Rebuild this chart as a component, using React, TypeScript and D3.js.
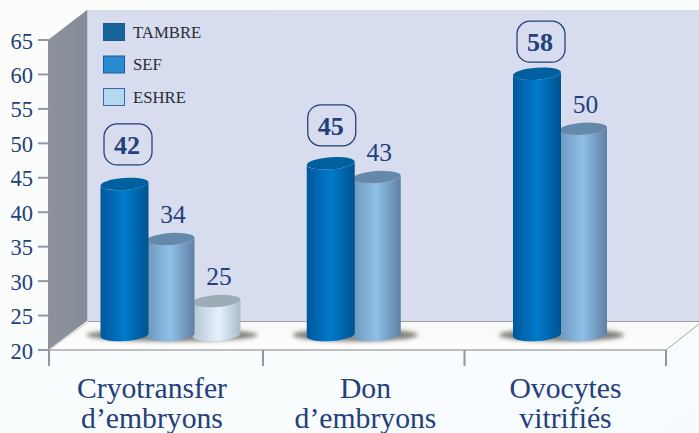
import React, { useMemo } from "react";
import * as d3 from "d3";

const categories = [["Cryotransfer", "d’embryons"], ["Don", "d’embryons"], ["Ovocytes", "vitrifiés"]];
const seriesNames = ["TAMBRE", "SEF", "ESHRE"];
const tambre = [42, 45, 58];
const sef = [34, 43, 50];
const eshre: (number | null)[] = [25, null, null];
const yTicks = [20, 25, 30, 35, 40, 45, 50, 55, 60, 65];

const W = 699, H = 433;
const serif = "'Liberation Serif', serif";
const navy = "#24407a";

const depth = { dx: 39, dy: -29 };
const plot = { left: 49, right: 666, top: 40, bottom: 350 };
const badgeShift = [{ x: 3.5, y: 39.5 }, { x: 1, y: 38 }, { x: 4, y: 32 }];

export default function App() {
  const y = useMemo(() => d3.scaleLinear().domain([20, 65]).range([plot.bottom, plot.top]), []);
  const tickX = useMemo(() => d3.scaleLinear().domain([0, 1, 3]).range([plot.left, 263, plot.right]), []);
  const groupX = useMemo(() => d3.scaleLinear().domain([0, 2]).range([124.5, 537]), []);
  const labelX = useMemo(() => d3.scaleLinear().domain([0, 1, 2]).range([152, 365.5, 565.5]), []);
  const barW = 48;
  const step = 46;
  const barOff = -14.5;
  const rY = 6;
  const tilt = -4;
  const dt = 1.7;
  const baseY = 335;

  const series = [tambre, sef, eshre];
  const bars = series.flatMap((vals, s) =>
    vals.map((v, c) => ({ v, s, c })).filter((d) => d.v !== null)
  ) as { v: number; s: number; c: number }[];

  const cylinder = (cx: number, top: number) => {
    const l = cx - barW / 2, r = cx + barW / 2;
    return `M${l},${top + dt} L${l},${baseY + dt} A${barW / 2},${rY} ${tilt} 0 0 ${r},${baseY - dt} L${r},${top - dt} A${barW / 2},${rY} ${tilt} 0 1 ${l},${top + dt} Z`;
  };
  const barCx = (d: { s: number; c: number }) => groupX(d.c) + d.s * step;

  const shadows = categories.map((_, c) => {
    const n = series.filter((sv) => sv[c] !== null).length;
    return {
      c,
      x0: groupX(c) - barW / 2 - 14,
      x1: groupX(c) + (n - 1) * step + barW / 2 + 17,
    };
  });

  return (
    <svg
      width={W}
      height={H}
      viewBox={`0 0 ${W} ${H}`}
      style={{ position: "absolute", left: 0, top: 0, display: "block" }}
    >
      <defs>
        <linearGradient id="page" x1="0" y1="0" x2="1" y2="1">
          <stop offset="0" stopColor="#fcfdfb" />
          <stop offset="1" stopColor="#f6fbfe" />
        </linearGradient>
        <linearGradient id="wall" x1="0" y1="0" x2="1" y2="0">
          <stop offset="0" stopColor="#8d929c" />
          <stop offset="1" stopColor="#868c97" />
        </linearGradient>
        <linearGradient id="floor" x1="0" y1="0" x2="0" y2="1">
          <stop offset="0" stopColor="#f8f8f7" />
          <stop offset="1" stopColor="#fefefe" />
        </linearGradient>
        <linearGradient id="s0" x1="0" y1="0" x2="1" y2="0">
          <stop offset="0" stopColor="#00589c" />
          <stop offset="0.5" stopColor="#007acc" />
          <stop offset="1" stopColor="#00538f" />
        </linearGradient>
        <linearGradient id="s1" x1="0" y1="0" x2="1" y2="0">
          <stop offset="0" stopColor="#6e97bd" />
          <stop offset="0.5" stopColor="#8fc0e8" />
          <stop offset="1" stopColor="#5f80a3" />
        </linearGradient>
        <linearGradient id="s2" x1="0" y1="0" x2="1" y2="0">
          <stop offset="0" stopColor="#b4c4d2" />
          <stop offset="0.55" stopColor="#e6f2fd" />
          <stop offset="1" stopColor="#a9bccb" />
        </linearGradient>
        <filter id="blur" x="-20%" y="-80%" width="140%" height="260%">
          <feGaussianBlur stdDeviation="2.2" />
        </filter>
      </defs>

      <rect width={W} height={H} fill="url(#page)" />

      {/* walls and floor */}
      <rect x={plot.left + depth.dx - 1} y={10} width={W} height={plot.bottom + depth.dy - 10} fill="#d7dcef" />
      <line x1={plot.left + depth.dx - 1} x2={plot.left + depth.dx - 1} y1={10} y2={plot.bottom + depth.dy} stroke="#a9b3c6" strokeWidth={1} />
      <polygon
        points={`${plot.left - 1},${plot.top} ${plot.left + depth.dx - 1},${plot.top + depth.dy - 1} ${plot.left + depth.dx - 1},${plot.bottom + depth.dy} ${plot.left - 1},${plot.bottom}`}
        fill="url(#wall)"
      />
      <polygon
        points={`${plot.left},${plot.bottom} ${plot.left + depth.dx},${plot.bottom + depth.dy + 1} ${W},${plot.bottom + depth.dy + 1} ${W},${plot.bottom + depth.dy + 3} ${plot.right},${plot.bottom}`}
        fill="url(#floor)"
      />
      <line x1={plot.left + depth.dx} x2={W} y1={plot.bottom + depth.dy + 0.5} y2={plot.bottom + depth.dy + 0.5} stroke="#9ea2a6" strokeWidth={1} />
      <line x1={plot.left} x2={plot.left + depth.dx} y1={plot.bottom} y2={plot.bottom + depth.dy + 1} stroke="#c9cbcb" strokeWidth={1} />
      <line x1={plot.right} x2={W} y1={plot.bottom} y2={plot.bottom - 26} stroke="#a3a7a8" strokeWidth={1} />
      <line x1={plot.left - 1} x2={plot.right} y1={plot.bottom} y2={plot.bottom} stroke="#a8abac" strokeWidth={1.6} />

      {/* y axis */}
      {yTicks.map((t) => (
        <g key={t}>
          <line x1={38} x2={49} y1={y(t)} y2={y(t)} stroke="#949aa3" strokeWidth={2} />
          <text x={33} y={y(t) + 8.5} textAnchor="end" fontFamily={serif} fontSize={22.5} fill={navy}>
            {t}
          </text>
        </g>
      ))}

      {/* x axis ticks */}
      {[0, 1, 2, 3].map((i) => (
        <line key={i} x1={tickX(i)} x2={tickX(i)} y1={plot.bottom} y2={366} stroke="#8f97a0" strokeWidth={2} />
      ))}

      {/* shadows */}
      {shadows.map((s) => (
        <ellipse
          key={s.c}
          cx={(s.x0 + s.x1) / 2}
          cy={baseY}
          rx={(s.x1 - s.x0) / 2}
          ry={6.5}
          fill="#85817a"
          filter="url(#blur)"
        />
      ))}

      {/* bars, drawn right to left so the left one overlaps */}
      {[...bars].reverse().map((d) => {
        const cx = barCx(d);
        const top = y(d.v) + barOff;
        return (
          <g key={`${d.s}-${d.c}`}>
            <path d={cylinder(cx, top)} fill={`url(#s${d.s})`} />
            <ellipse
              cx={cx}
              cy={top}
              rx={barW / 2}
              ry={rY}
              transform={`rotate(${tilt} ${cx} ${top})`}
              fill={["#005f9e", "#6589aa", "#9dadb5"][d.s]}
            />
          </g>
        );
      })}

      {/* value labels */}
      {bars.map((d) => {
        const cx = barCx(d);
        const top = y(d.v) + barOff;
        if (d.s === 0) {
          const bx = cx + badgeShift[d.c].x;
          const by = top - badgeShift[d.c].y;
          return (
            <g key={`l${d.c}`}>
              <rect x={bx - 24} y={by - 20.5} width={48} height={41} rx={13} fill="none" stroke={navy} strokeWidth={1.3} />
              <text x={bx - 1} y={by + 9.5} textAnchor="middle" fontFamily={serif} fontWeight="bold" fontSize={26} fill={navy}>
                {d.v}
              </text>
            </g>
          );
        }
        return (
          <text key={`l${d.s}-${d.c}`} x={cx + 2.5} y={top - 16} textAnchor="middle" fontFamily={serif} fontSize={25.5} fill={navy}>
            {d.v}
          </text>
        );
      })}

      {/* legend */}
      {seriesNames.map((n, i) => {
        const ly = 32 + i * 32.5;
        return (
          <g key={n}>
            <rect
              x={103.5}
              y={ly - 8.5}
              width={21}
              height={17}
              fill={["#17659b", "#2a8bd0", "#b4d8f2"][i]}
              stroke={["#1d5a92", "#1f5a9c", "#41689f"][i]}
              strokeWidth={1}
            />
            <text x={133} y={ly + 5.5} fontFamily={serif} fontSize={16.7} fill="#2c2c33">
              {n}
            </text>
          </g>
        );
      })}

      {/* category labels */}
      {categories.map((lines, c) => (
        <text key={c} textAnchor="middle" fontFamily={serif} fontSize={29.7} fill={navy}>
          {lines.map((ln, i) => (
            <tspan key={i} x={labelX(c)} y={398 + i * 29.5}>
              {ln}
            </tspan>
          ))}
        </text>
      ))}
    </svg>
  );
}
